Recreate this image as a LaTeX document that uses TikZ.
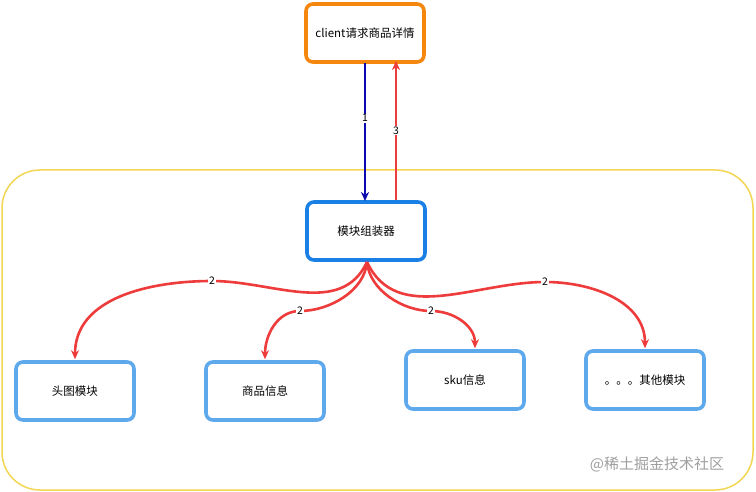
\documentclass[tikz,border=0pt]{standalone}
\usepackage{fontspec}
\setmainfont{Noto Sans CJK SC}
\usetikzlibrary{arrows.meta,calc}
\definecolor{orangeb}{HTML}{F5870F}
\definecolor{blueb}{HTML}{1A80E6}
\definecolor{lblueb}{HTML}{5EA8EC}
\definecolor{redl}{HTML}{EE3B3B}
\definecolor{darkb}{HTML}{0A0AB0}
\definecolor{yell}{HTML}{F2D654}
\begin{document}
\begin{tikzpicture}[x=1pt,y=-1pt,
  box/.style={draw, line width=3.6pt, rounded corners=7pt, minimum width=118pt, minimum height=58pt, font=\fontsize{11.5}{13}\selectfont, fill=white},
  conn/.style={line width=2.6pt, draw=redl, -{Stealth[length=9pt,width=8pt,open]}},
  lbl/.style={fill=white, text=black, inner sep=0.6pt, font=\fontsize{10.5}{11}\selectfont}]
\useasboundingbox (0,0) rectangle (756,492);
\fill[white] (0,0) rectangle (756,492);
% container
\draw[yell, line width=1.5pt, rounded corners=38pt] (2,170) rectangle (753,490);
% nodes
\node[box, draw=orangeb] (cl) at (365,33) {client请求商品详情};
\node[box, draw=blueb] (asm) at (366,231) {模块组装器};
\node[box, draw=lblueb] (t1) at (75,391) {头图模块};
\node[box, draw=lblueb] (t2) at (265,391) {商品信息};
\node[box, draw=lblueb] (t3) at (465,380) {sku信息};
\node[box, draw=lblueb] (t4) at (645,380) {。。。其他模块};
% watermark
\node[text=gray!75, font=\fontsize{15}{16}\selectfont] (wm) at (657,464) {@稀土掘金技术社区};
% vertical arrows
\coordinate (a1s) at (365,63);
\coordinate (a1e) at (365,201);
\draw[draw=darkb, line width=2.6pt, -{Stealth[length=9pt,width=8pt,open]}] (a1s) -- node[lbl, pos=0.4]{1} (a1e);
\coordinate (a3s) at (396,200);
\coordinate (a3e) at (396,61);
\draw[draw=redl, line width=2.6pt, -{Stealth[length=9pt,width=8pt,open]}] (a3s) -- node[lbl, pos=0.5]{3} (a3e);
% fan-out arrows
\coordinate (o) at (367,262);
\coordinate (k1) at (212,281);
\coordinate (k2) at (300,311);
\coordinate (k3) at (431,311);
\coordinate (k4) at (545,282);
\draw[conn] (o) to[out=-115,in=0] (k1) to[out=180,in=90] ($(t1.north)+(0,-1)$);
\draw[conn] (o) to[out=-95,in=0,looseness=0.9] (k2) to[out=180,in=90] ($(t2.north)+(0,-1)$);
\draw[conn] (o) to[out=-85,in=180,looseness=0.9] (k3) to[out=0,in=90] ($(t3.north)+(10,-1)$);
\draw[conn] (o) to[out=-65,in=180] (k4) to[out=0,in=90] ($(t4.north)+(0,-1)$);
\node[lbl] (l1) at (k1) {2};
\node[lbl] (l2) at (k2) {2};
\node[lbl] (l3) at (k3) {2};
\node[lbl] (l4) at (k4) {2};
\end{tikzpicture}
\end{document}
